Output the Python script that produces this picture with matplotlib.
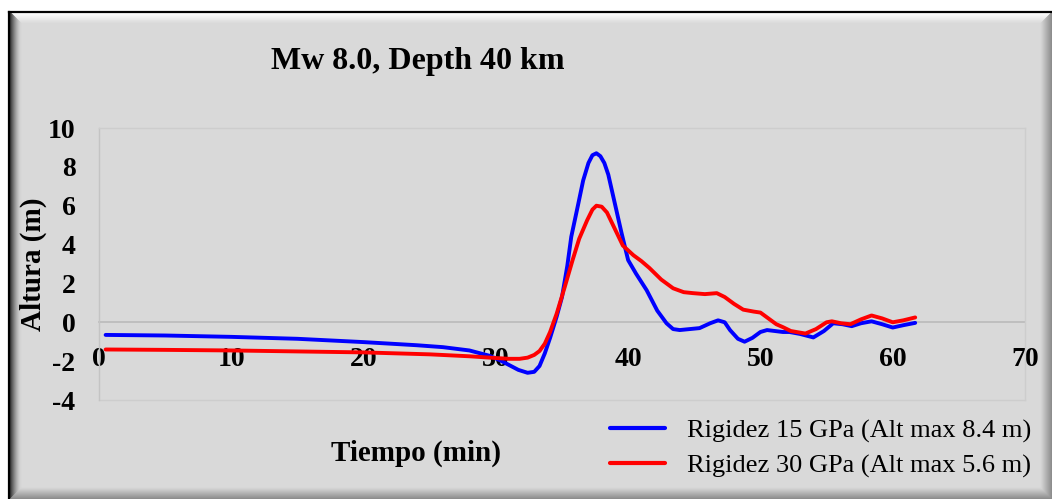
import numpy as np
import matplotlib
matplotlib.use("Agg")
import matplotlib.pyplot as plt
from matplotlib.patches import Polygon

# ---------------- data ----------------
t_15 = [0.5, 5, 10, 15, 20, 24, 26, 28, 29.5, 30.3, 31.0, 31.7, 32.4, 32.9, 33.3,
        33.7, 34.1, 34.6, 35.0, 35.4, 35.7, 36.2, 36.6, 37.0, 37.3, 37.6, 37.9,
        38.2, 38.5, 38.9, 39.5, 40.0, 40.6, 41.4, 42.2, 42.9, 43.4, 43.9, 45.4,
        46.2, 46.8, 47.3, 47.7, 48.3, 48.8, 49.4, 50.0, 50.5, 51.7, 52.2, 53.0,
        54.0, 54.8, 55.5, 56.2, 56.9, 57.6, 58.4, 59.2, 60.0, 60.8, 61.7]
h_15 = [-0.65, -0.68, -0.75, -0.85, -1.02, -1.18, -1.28, -1.45, -1.72, -1.95,
        -2.2, -2.45, -2.6, -2.55, -2.25, -1.6, -0.8, 0.3, 1.3, 2.9, 4.4, 6.0, 7.3,
        8.2, 8.6, 8.7, 8.55, 8.2, 7.6, 6.4, 4.6, 3.2, 2.5, 1.65, 0.6, -0.05, -0.35,
        -0.4, -0.3, -0.05, 0.1, 0.0, -0.4, -0.85, -1.0, -0.8, -0.5, -0.4, -0.5,
        -0.5, -0.6, -0.78, -0.45, -0.05, -0.1, -0.2, -0.05, 0.05, -0.1, -0.27,
        -0.15, -0.03]

t_30 = [0.5, 5, 10, 15, 20, 25, 28, 30, 31.0, 31.8, 32.4, 32.9, 33.3, 33.7, 34.1,
        34.6, 35.2, 35.8, 36.3, 36.9, 37.3, 37.6, 38.0, 38.4, 39.0, 39.6, 40.4,
        41.0, 41.6, 42.5, 43.4, 44.2, 44.9, 45.8, 46.7, 47.3, 48.0, 48.7, 49.5,
        50.0, 50.6, 51.2, 51.7, 52.3, 53.4, 54.2, 55.0, 55.4, 56.1, 56.8, 57.6,
        58.4, 59.2, 60.0, 60.8, 61.7]
h_30 = [-1.4, -1.42, -1.45, -1.5, -1.55, -1.65, -1.75, -1.84, -1.88, -1.88, -1.82,
        -1.68, -1.48, -1.1, -0.5, 0.45, 1.8, 3.2, 4.3, 5.25, 5.8, 6.0, 5.95, 5.65,
        4.8, 3.95, 3.45, 3.15, 2.8, 2.2, 1.75, 1.55, 1.5, 1.45, 1.5, 1.3, 0.95,
        0.65, 0.55, 0.5, 0.2, -0.1, -0.25, -0.45, -0.58, -0.35, 0.0, 0.05, -0.05,
        -0.1, 0.15, 0.35, 0.2, 0.0, 0.1, 0.25]

x_ticks = [0, 10, 20, 30, 40, 50, 60, 70]
y_ticks = [-4, -2, 0, 2, 4, 6, 8, 10]
series_labels = ["Rigidez 15 GPa (Alt max 8.4 m)", "Rigidez 30 GPa (Alt max 5.6 m)"]
title = "Mw 8.0, Depth 40 km"
xlabel = "Tiempo (min)"
ylabel = "Altura (m)"

# ---------------- figure ----------------
W, H = 1052, 499
plt.rcParams['font.family'] = ['Liberation Serif', 'DejaVu Serif']
fig = plt.figure(figsize=(W / 100, H / 100), dpi=100, facecolor='white')

def P(x, y):
    return (x / W, 1 - y / H)

BG = np.array([0.851, 0.851, 0.851])

fig.patches.append(Polygon([P(10, 12), P(1052, 12), P(1052, 499), P(10, 499)],
                           closed=True, transform=fig.transFigure,
                           facecolor=BG, edgecolor='none', zorder=0))

L, T, R, B = 10, 12, 1052, 499
n = 11
top_c0 = np.array([1.0, 1.0, 1.0])
left_c0 = np.array([0.2, 0.2, 0.2])
right_c0 = np.array([0.55, 0.55, 0.55])
bot_c0 = np.array([0.55, 0.55, 0.55])
for i in range(n):
    f = i / n
    a0, a1 = i, i + 1
    ct = top_c0 * (1 - f) + BG * f
    g = (1 - f) ** 1.5
    cl = left_c0 * g + BG * (1 - g)
    cr = right_c0 * (1 - f) + BG * f
    cb = bot_c0 * (1 - f) + BG * f
    kw = dict(closed=True, transform=fig.transFigure, lw=0.3, zorder=0.1)
    fig.patches.append(Polygon([P(L + a0, T + a0), P(R - a0, T + a0), P(R - a1, T + a1), P(L + a1, T + a1)],
                               facecolor=ct, edgecolor=ct, **kw))
    fig.patches.append(Polygon([P(L + a0, T + a0), P(L + a1, T + a1), P(L + a1, B - a1), P(L + a0, B - a0)],
                               facecolor=cl, edgecolor=cl, **kw))
    fig.patches.append(Polygon([P(R - a0, T + a0), P(R - a1, T + a1), P(R - a1, B - a1), P(R - a0, B - a0)],
                               facecolor=cr, edgecolor=cr, **kw))
    fig.patches.append(Polygon([P(L + a0, B - a0), P(R - a0, B - a0), P(R - a1, B - a1), P(L + a1, B - a1)],
                               facecolor=cb, edgecolor=cb, **kw))

fig.lines.append(plt.Line2D([P(9.5, 0)[0], P(9.5, 0)[0]], [P(0, 499)[1], P(0, 11.5)[1]],
                            transform=fig.transFigure, color='black', lw=1.6, zorder=0.2))
fig.lines.append(plt.Line2D([P(9.5, 0)[0], P(1052, 0)[0]], [P(0, 11.5)[1], P(0, 11.5)[1]],
                            transform=fig.transFigure, color='black', lw=1.6, zorder=0.2))

# axes
ax_l, ax_r, ax_t, ax_b = 99, 1025, 128, 400
ax = fig.add_axes([ax_l / W, 1 - ax_b / H, (ax_r - ax_l) / W, (ax_b - ax_t) / H])
ax.set_zorder(2)
ax.set_facecolor('none')
ax.set_xlim(0, 70)
ax.set_ylim(-4, 10)

for side in ['top', 'right', 'left']:
    ax.spines[side].set_color('#cdcdcd')
    ax.spines[side].set_linewidth(1.0)
ax.spines['left'].set_color('#c4c4c4')
ax.spines['bottom'].set_position(('data', 0))
ax.spines['bottom'].set_color('#bdbdbd')
ax.spines['bottom'].set_linewidth(1.3)
ax.spines['bottom'].set_zorder(1)
ax.plot([0, 70], [-4, -4], color='#cdcdcd', lw=1.0, zorder=0.9, clip_on=False)

l1, = ax.plot(t_15, h_15, color='#0000ff', lw=2.8, solid_capstyle='round',
              solid_joinstyle='round', zorder=2)
l2, = ax.plot(t_30, h_30, color='#ff0000', lw=2.8, solid_capstyle='round',
              solid_joinstyle='round', zorder=2.1)

ax.set_xticks(x_ticks)
ax.set_xticklabels([str(v) for v in x_ticks], fontsize=20, fontweight='bold')
ax.set_yticks(y_ticks)
ax.set_yticklabels([str(v) for v in y_ticks], fontsize=20, fontweight='bold')
ax.tick_params(axis='x', length=0, pad=18)
ax.tick_params(axis='y', length=0, pad=17)

fig.text(*P(418, 62), title, fontsize=23, fontweight='bold', ha='center', va='center')
fig.text(*P(416, 453), xlabel, fontsize=21, fontweight='bold', ha='center', va='center')
fig.text(*P(33, 264), ylabel, fontsize=21, fontweight='bold', ha='center', va='center', rotation=90)

leg = ax.legend([l1, l2], series_labels, loc='center left',
                bbox_to_anchor=P(610, 448.5), bbox_transform=fig.transFigure,
                frameon=False, fontsize=19, handlelength=2.08, handletextpad=0.83,
                labelspacing=0.43, borderpad=0, borderaxespad=0)
for lh in leg.get_lines():
    lh.set_linewidth(3.0)

fig.savefig('out.png', dpi=100, facecolor='white')
